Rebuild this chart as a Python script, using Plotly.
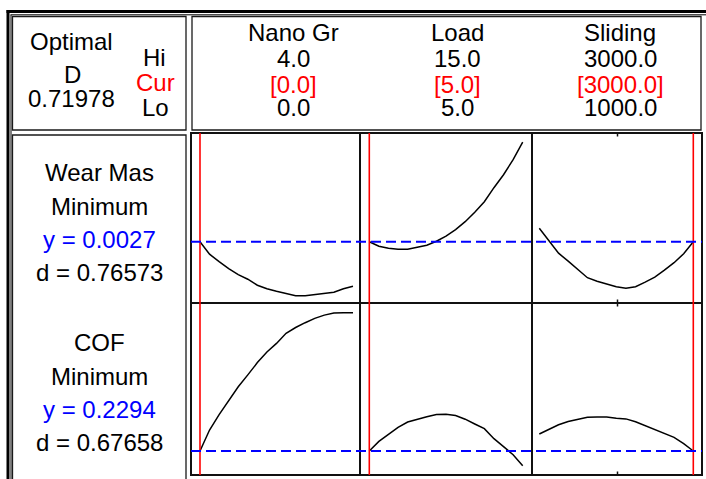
import plotly.graph_objects as go

# ---------------- data ----------------
factors = ["Nano Gr", "Load", "Sliding"]
hi_vals = ["4.0", "15.0", "3000.0"]
cur_vals = ["[0.0]", "[5.0]", "[3000.0]"]
lo_vals = ["0.0", "5.0", "1000.0"]
current_x = [0.0, 5.0, 3000.0]

optimal_D = "0.71978"
responses = ["Wear Mas", "COF"]
goals = ["Minimum", "Minimum"]
y_pred = [0.0027, 0.2294]
y_text = ["y = 0.0027", "y = 0.2294"]
d_text = ["d = 0.76573", "d = 0.67658"]

nano_x = [0.0, 0.25, 0.5, 0.75, 1.0, 1.25, 1.5, 1.75, 2.0, 2.25, 2.5, 2.75, 3.0, 3.25, 3.5, 3.75, 4.0]
load_x = [5.0, 5.625, 6.25, 6.875, 7.5, 8.125, 8.75, 9.375, 10.0, 10.625, 11.25, 11.875, 12.5, 13.125, 13.75, 14.375, 15.0]
slide_x = [1000, 1125, 1250, 1375, 1500, 1625, 1750, 1875, 2000, 2125, 2250, 2375, 2500, 2625, 2750, 2875, 3000]

wear_nano = [0.00270, 0.00245, 0.00230, 0.00216, 0.00204, 0.00195, 0.00183, 0.00176, 0.00171,
             0.00167, 0.00162, 0.00162, 0.00164, 0.00166, 0.00169, 0.00176, 0.00181]
wear_load = [0.00270, 0.00261, 0.00257, 0.00255, 0.00255, 0.00259, 0.00263, 0.00271, 0.00281,
             0.00294, 0.00310, 0.00329, 0.00350, 0.00378, 0.00404, 0.00434, 0.00469]
wear_slide = [0.00297, 0.00273, 0.00247, 0.00231, 0.00215, 0.00198, 0.00191, 0.00185, 0.00180,
              0.00177, 0.00180, 0.00189, 0.00199, 0.00213, 0.00228, 0.00246, 0.00270]
cof_nano = [0.2294, 0.2504, 0.2658, 0.2800, 0.2936, 0.3055, 0.3178, 0.3284, 0.3370,
            0.3471, 0.3529, 0.3577, 0.3620, 0.3653, 0.3675, 0.3677, 0.3677]
cof_load = [0.2294, 0.2390, 0.2460, 0.2531, 0.2584, 0.2614, 0.2637, 0.2660, 0.2661,
            0.2648, 0.2612, 0.2564, 0.2517, 0.2417, 0.2339, 0.2257, 0.2147]
cof_slide = [0.2464, 0.2506, 0.2556, 0.2589, 0.2608, 0.2632, 0.2634, 0.2634, 0.2622,
             0.2615, 0.2587, 0.2549, 0.2509, 0.2469, 0.2431, 0.2368, 0.2294]

# ---------------- layout helpers ----------------
W, H = 706, 479
def X(px): return px / W
def Y(py): return 1 - py / H

FONT = "Liberation Sans, Arial, Helvetica, sans-serif"
FS = 24
RED = "#ff0000"
BLUE = "#0000ff"

col_px = [(191, 360), (360, 532), (532, 702)]
row_px = [(133, 303), (303, 475)]
x_ranges = [[-0.235, 4.183], [4.394, 15.606], [905.2, 3113.0]]
y_ranges = [[0.001474, 0.004874], [0.2054, 0.3774]]

xs = [nano_x, load_x, slide_x]
ys = [[wear_nano, wear_load, wear_slide], [cof_nano, cof_load, cof_slide]]

fig = go.Figure()
layout_axes = {}
k = 0
for r in range(2):
    for c in range(3):
        k += 1
        sfx = "" if k == 1 else str(k)
        fig.add_trace(go.Scatter(x=xs[c], y=ys[r][c], mode="lines",
                                 line=dict(color="black", width=1.5),
                                 xaxis="x" + sfx, yaxis="y" + sfx,
                                 showlegend=False, hoverinfo="skip"))
        layout_axes["xaxis" + sfx] = dict(domain=[X(col_px[c][0]), X(col_px[c][1])],
                                          range=x_ranges[c], visible=False, fixedrange=True,
                                          anchor="y" + sfx)
        layout_axes["yaxis" + sfx] = dict(domain=[Y(row_px[r][1]), Y(row_px[r][0])],
                                          range=y_ranges[r], visible=False, fixedrange=True,
                                          anchor="x" + sfx)

shapes = []
def line(x0, y0, x1, y1, w=1.0, color="black"):
    shapes.append(dict(type="line", xref="paper", yref="paper",
                       x0=X(x0), y0=Y(y0), x1=X(x1), y1=Y(y1),
                       line=dict(color=color, width=w), layer="above"))
def rect(x0, y0, x1, y1, w=1.3, color="#1a1a1a"):
    shapes.append(dict(type="rect", xref="paper", yref="paper",
                       x0=X(x0), y0=Y(y0), x1=X(x1), y1=Y(y1),
                       line=dict(color=color, width=w), fillcolor="rgba(0,0,0,0)", layer="above"))

# outer double frame (right/bottom sides fall outside the picture)
line(6.5, 11.5, 720, 11.5, 3)
line(8, 10, 8, 495, 3)
line(10.5, 14.8, 720, 14.8, 1)
line(11, 14.8, 11, 495, 1)

# header boxes and label box
rect(12.5, 16.5, 186, 130)
rect(192, 16.5, 701, 130)
rect(12.5, 135, 186, 495)

# panel grid
rect(191, 133, 702, 475, 2, "#111111")
line(360, 133, 360, 475, 2, "#111111")
line(532, 133, 532, 475, 2, "#111111")
line(191, 303, 702, 303, 2, "#111111")
# small centre ticks on the Sliding panels
for (a, b) in [(133, 136.5), (299.5, 306.5), (471.5, 475)]:
    line(617.5, a, 617.5, b, 1.5, "#111111")

# current-setting red lines
for c in range(3):
    sfx = "" if c == 0 else str(c + 1)
    shapes.append(dict(type="line", xref="x" + sfx, yref="paper",
                       x0=current_x[c], x1=current_x[c], y0=Y(475), y1=Y(133),
                       line=dict(color=RED, width=1.6), layer="above"))

# predicted response blue dashed lines
for r in range(2):
    sfx = "" if r == 0 else "4"
    shapes.append(dict(type="line", xref="paper", yref="y" + sfx,
                       x0=X(191), x1=X(702), y0=y_pred[r], y1=y_pred[r],
                       line=dict(color=BLUE, width=2, dash="10px,5px"), layer="above"))

annotations = []
def txt(s, px, py, color="black"):
    annotations.append(dict(text=s, x=X(px), y=Y(py), xref="paper", yref="paper",
                            showarrow=False, xanchor="center", yanchor="middle",
                            font=dict(family=FONT, size=FS, color=color)))

txt("Optimal", 71.5, 41.5)
txt("D", 72, 75)
txt(optimal_D, 71, 98)
txt("Hi", 154.5, 57)
txt("Cur", 155, 83, RED)
txt("Lo", 155, 107)

col_cx = [293, 457, 620]
for c in range(3):
    txt(factors[c], col_cx[c], 32)
    txt(hi_vals[c], col_cx[c], 58)
    txt(cur_vals[c], col_cx[c], 84, RED)
    txt(lo_vals[c], col_cx[c], 107.5)

row_ty = [[172, 206, 239, 272], [342, 376, 409, 442]]
for r in range(2):
    txt(responses[r], 99, row_ty[r][0])
    txt(goals[r], 99.5, row_ty[r][1])
    txt(y_text[r], 99, row_ty[r][2], BLUE)
    txt(d_text[r], 99, row_ty[r][3])

fig.update_layout(width=W, height=H, autosize=False,
                  margin=dict(l=0, r=0, t=0, b=0, pad=0),
                  paper_bgcolor="white", plot_bgcolor="white",
                  shapes=shapes, annotations=annotations,
                  showlegend=False, **layout_axes)

fig.write_html("out.html", config={"displayModeBar": False})
